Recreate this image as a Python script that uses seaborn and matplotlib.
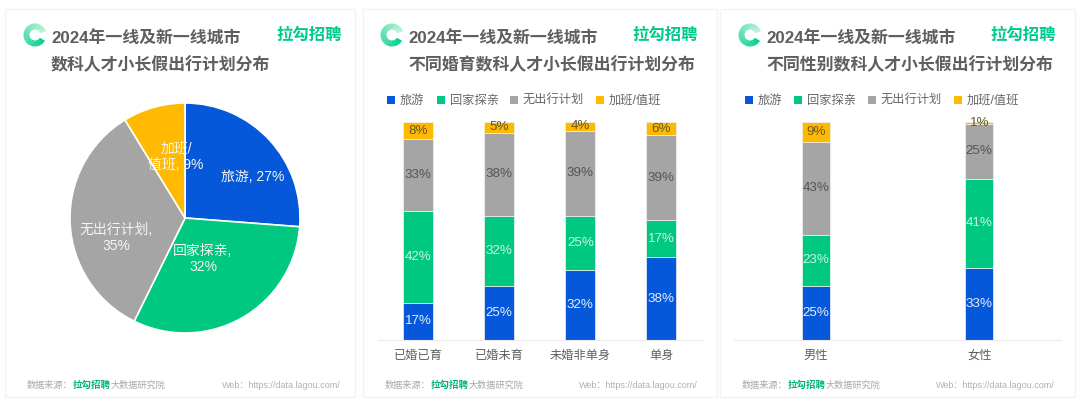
#!/usr/bin/env python3

"""Lagou holiday travel plan charts: one pie and two stacked bar panels."""

import matplotlib
matplotlib.use('Agg')
import matplotlib.pyplot as plt
import pandas as pd
import seaborn as sns
from matplotlib.patches import Rectangle, Wedge

plans = ['旅游', '回家探亲', '无出行计划', '加班/值班']
colors = ['#0558da', '#00c880', '#a5a5a5', '#ffb900']
label_colors = ['#e6ecfa', '#c9f3e2', '#555555', '#665a2a']

pie_values = [27, 32, 35, 9]
pie_labels = ['旅游, 27%', '回家探亲,\n32%', '无出行计划,\n35%', '加班/\n值班, 9%']

marriage_groups = ['已婚已育', '已婚未育', '未婚非单身', '单身']
marriage_travel = [17, 25, 32, 38]
marriage_home = [42, 32, 25, 17]
marriage_none = [33, 38, 39, 39]
marriage_work = [8, 5, 4, 6]

gender_groups = ['男性', '女性']
gender_travel = [25, 33]
gender_home = [23, 41]
gender_none = [43, 25]
gender_work = [9, 1]

title_top = '2024年一线及新一线城市'
titles_bottom = ['数科人才小长假出行计划分布', '不同婚育数科人才小长假出行计划分布', '不同性别数科人才小长假出行计划分布']

W, H = 1080, 415
TEXT = '#5f5f5f'
FONTS = ['Liberation Sans', 'Noto Sans CJK SC']

sns.set_theme(style='white')
plt.rcParams['font.family'] = FONTS

fig = plt.figure(figsize=(W / 100, H / 100), dpi=100, facecolor='#ffffff')


def px_axes(left, top, right, bottom, **kw):
    return fig.add_axes([left / W, 1 - bottom / H, (right - left) / W, (bottom - top) / H], **kw)


def overlay_axes(zorder):
    ax = px_axes(0, 0, W, H, zorder=zorder)
    ax.set_xlim(0, W)
    ax.set_ylim(H, 0)
    ax.axis('off')
    return ax


# pixel coordinate layers, one under the charts and one over them
bg = overlay_axes(0)
top = overlay_axes(5)


def draw_logo(cx, cy):
    # ring fades from green to pale along the arc
    steps = 24
    for i in range(steps):
        t = i / steps
        start = 30 + t * 310
        r = int(t * 0xc0)
        g = int(0xcf + t * 0x25)
        b = int(0x90 + t * 0x48)
        bg.add_patch(Wedge((cx, cy), 11.5, start, start + 14, width=6,
                           color=f'#{r:02x}{g:02x}{b:02x}', lw=0))


def draw_card(left, right, logo_x, title_x, brand_x, foot_x, web_x):
    bg.add_patch(Rectangle((left, 9), right - left, 388, facecolor='white',
                           edgecolor='#f3f3f3', lw=1))
    draw_logo(logo_x, 35)
    bg.text(title_x, 39, title_top, fontsize=12.2, color=TEXT, va='center', fontweight='bold')
    bg.text(brand_x, 35, '拉勾招聘', fontsize=11.8, color='#00c98d', va='center', fontweight='bold')
    bg.text(foot_x, 385, '数据来源：', fontsize=6.6, color='#a8a8a8', va='center')
    bg.text(foot_x + 46, 385, '拉勾招聘', fontsize=6.8, color='#00b27a', va='center', fontweight='bold')
    bg.text(foot_x + 84, 385, '大数据研究院', fontsize=6.6, color='#a8a8a8', va='center')
    bg.text(web_x, 385.5, 'Web：https://data.lagou.com/', fontsize=6.5, color='#b0b0b0', va='center')


draw_card(5, 355, 35, 51, 276, 27, 222)
draw_card(363, 717, 392, 408, 632, 385, 579)
draw_card(720, 1075, 750, 766, 990, 742, 936)

for text, x in zip(titles_bottom, [51, 408, 766]):
    bg.text(x, 65, text, fontsize=12.2, color=TEXT, va='center', fontweight='bold')

# pie panel
ax_pie = px_axes(70, 103, 300, 333, zorder=1)
ax_pie.pie(pie_values, colors=colors, startangle=90, counterclock=False, radius=1,
           wedgeprops={'edgecolor': 'white', 'linewidth': 1.2})
ax_pie.set_xlim(-1, 1)
ax_pie.set_ylim(-1, 1)
label_pos = [(253, 177), (203, 259), (116, 238), (176, 157)]
for text, (x, y) in zip(pie_labels, label_pos):
    top.text(x, y, text, fontsize=10, color='#f4f4f4', ha='center', va='center', linespacing=1.2)


def stacked_panel(left, right, groups, series, bar_width):
    ax = px_axes(left, 122, right, 340, zorder=2)
    ax.patch.set_alpha(0)
    df = pd.DataFrame({'group': groups})
    bottoms = [0] * len(groups)
    for name, values, color, label_color in zip(plans, series, colors, label_colors):
        df['value'] = values
        sns.barplot(data=df, x='group', y='value', bottom=bottoms, color=color, width=bar_width,
                    saturation=1, ax=ax, edgecolor='#f2f2f2', linewidth=0.5, label=name, legend=False)
        for i, v in enumerate(values):
            ax.text(i, bottoms[i] + v / 2, f'{v}%', ha='center', va='center', fontsize=9.6, color=label_color)
        bottoms = [b + v for b, v in zip(bottoms, values)]
    ax.set_ylim(0, 100)
    ax.set_xlabel('')
    ax.set_ylabel('')
    ax.set_yticks([])
    ax.tick_params(axis='x', length=0, labelsize=8.8, labelcolor=TEXT, pad=7)
    sns.despine(ax=ax, left=True)
    ax.spines['bottom'].set_color('#ebebeb')
    ax.spines['bottom'].set_linewidth(0.8)
    return ax


stacked_panel(377.5, 702, marriage_groups,
              [marriage_travel, marriage_home, marriage_none, marriage_work], 0.37)
stacked_panel(734, 1061, gender_groups,
              [gender_travel, gender_home, gender_none, gender_work], 0.172)

# legends are spaced by hand to follow the reference
legend_rows = [[387, 437, 510, 596], [745, 794, 868, 954]]
for xs in legend_rows:
    for x, name, color in zip(xs, plans, colors):
        bg.add_patch(Rectangle((x, 96), 8, 8, facecolor=color, edgecolor='none'))
        bg.text(x + 13, 100.5, name, fontsize=8.8, color='#666666', va='center')

plt.savefig('out.png', dpi=100, facecolor='white')
plt.close()
